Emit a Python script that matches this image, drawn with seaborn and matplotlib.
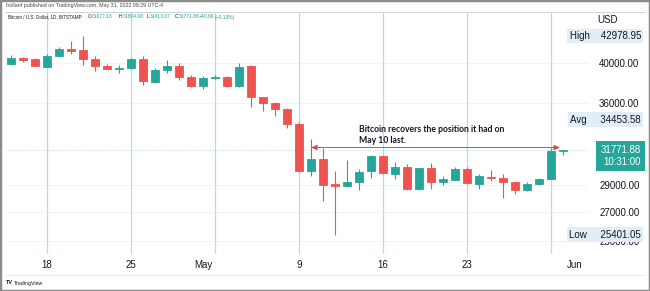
import numpy as np
import pandas as pd
import matplotlib
matplotlib.use("Agg")
import matplotlib.pyplot as plt
import matplotlib.dates as mdates
import matplotlib.transforms as mtransforms
from matplotlib.lines import Line2D
from matplotlib.patches import Rectangle
from matplotlib.ticker import NullLocator, FixedLocator
import seaborn as sns

# daily BTC/USD candles, 15 Apr - 31 May 2022
dates = pd.date_range("2022-04-15", "2022-05-31", freq="D")
open_ = [39944, 40550, 40413, 39629, 40766, 41529, 41419, 40480, 39702, 39420, 39460,
         40413, 38087, 39284, 39734, 38594, 37626, 38492, 38520, 37686, 39702, 36547,
         36029, 35461, 34055, 30097, 31018, 29050, 28926, 29234, 30040, 31290, 29860,
         30417, 28653, 30289, 29187, 29380, 30257, 29080, 29620, 29500, 29234, 28580,
         29033, 29443, 31677.13]
high = [40874, 40658, 40583, 40950, 41715, 42416, 42978.95, 40766, 39913, 39807, 40500,
        40766, 39461, 40338, 39987, 38768, 38666, 38768, 38666, 40050, 39807, 36605,
        36124, 35554, 34240, 32704, 31934, 30073, 30961, 30250, 31390, 31390, 30822,
        30640, 30340, 30740, 29680, 30370, 30417, 29810, 30153, 29860, 29320, 29187,
        29498, 31934, 31804.08]
low = [39807, 40156, 39680, 39600, 40658, 40950, 39807, 39180, 39388, 39005, 39400,
       37756, 37926, 38943, 38259, 37585, 37388, 38329, 37585, 37600, 35593, 35274,
       34811, 33723, 29993, 29701, 27779, 25401.05, 28850, 28600, 29498, 29820, 29420,
       28620, 28600, 28700, 28980, 29330, 29050, 28700, 29320, 28022, 28275, 28520,
       28960, 29443, 31413.67]
close = [40583, 40338, 39702, 40766, 41495, 41342, 40444, 39702, 39440, 39460, 40413,
         38127, 39284, 39734, 38533, 37626, 38492, 38520, 37686, 39629, 36547, 36029,
         35461, 34028, 30097, 31018, 28980, 28920, 29234, 30017, 31290, 29890, 30417,
         28653, 30289, 29187, 29443, 30257, 29110, 29678, 29500, 29187, 28600, 29033,
         29443, 31700, 31771.88]

price_ticks = [25000, 27000, 29000, 36000, 40000]
week_lines = pd.date_range("2022-04-18", "2022-05-30", freq="7D")
date_ticks = pd.to_datetime(["2022-04-18", "2022-04-25", "2022-05-01", "2022-05-09",
                             "2022-05-16", "2022-05-23", "2022-06-01"])
date_labels = ["18", "25", "May", "9", "16", "23", "Jun"]

high_val, avg_val, low_val, last_val = 42978.95, 34453.58, 25401.05, 31771.88
note = "Bitcoin recovers the position it had on\nMay 10 last."
arrow_from, arrow_to, arrow_price = "2022-05-10", "2022-05-30 18:00", 32000
note_at, note_price = "2022-05-14", 33950

GREEN, RED = "#26a69a", "#ef5350"

sns.set_style("white")
plt.rcParams["font.family"] = ["Liberation Sans", "DejaVu Sans"]

W, H = 650, 291
fig = plt.figure(figsize=(6.5, 2.91), dpi=100)
fig.patch.set_facecolor("white")


def fx(px):
    return px / W


def fy(py):
    return 1 - py / H


ax = fig.add_axes([fx(5), fy(254), fx(588) - fx(5), fy(12) - fy(254)])
x = mdates.date2num(dates)
o, h, l, c = map(np.array, (open_, high, low, close))
colors = np.where(c >= o, GREEN, RED)

for d in week_lines:
    ax.axvline(mdates.date2num(d), color="#b5dde0", lw=0.9, zorder=1)

ax.vlines(x, l, h, colors=colors, lw=0.8, zorder=2)
ax.bar(x, np.abs(c - o), bottom=np.minimum(o, c), width=0.66, color=colors,
       edgecolor=colors, lw=0.6, zorder=3)

ax.axhline(last_val, color="#a9c9c5", ls=(0, (1, 2)), lw=0.6, zorder=1)

ax.set_yscale("log")
ax.set_ylim(24144, 45799)
x0 = mdates.date2num(pd.Timestamp("2022-04-18"))
ax.set_xlim(x0 - 3.5, x0 + 45.08)
ax.yaxis.set_major_locator(FixedLocator(price_ticks))
ax.yaxis.set_minor_locator(NullLocator())
ax.set_yticklabels([f"{v:.2f}" for v in price_ticks])
ax.yaxis.tick_right()
ax.set_xticks(mdates.date2num(date_ticks))
ax.set_xticklabels(date_labels)
ax.tick_params(axis="y", length=0, pad=8, labelsize=7, labelcolor="#131722")
ax.tick_params(axis="x", length=0, pad=4, labelsize=7, labelcolor="#131722")
ax.grid(axis="y", color="#eef1f6", lw=0.6)
ax.set_axisbelow(True)
sns.despine(ax=ax, left=True, bottom=True)

# annotation
ax.annotate("", xy=(mdates.date2num(pd.Timestamp(arrow_from)), arrow_price),
            xytext=(mdates.date2num(pd.Timestamp(arrow_to)), arrow_price),
            arrowprops=dict(arrowstyle="<|-|>,head_length=0.35,head_width=0.15",
                            color="#d84a4a", lw=0.7, shrinkA=0, shrinkB=0), zorder=4)
ax.text(mdates.date2num(pd.Timestamp(note_at)), note_price, note, fontsize=6.2,
        fontweight="bold", va="top", ha="left", linespacing=1.3, color="#131722",
        family=["Lato", "DejaVu Sans"])

# price scale labels
trans = mtransforms.blended_transform_factory(fig.transFigure, ax.transData)
box = dict(boxstyle="square,pad=0.25", fc="#e2edf8", ec="none")
for name, val, gap in [("High", high_val, "    "), ("Avg", avg_val, "     "), ("Low", low_val, "     ")]:
    ax.text(fx(641), val, f"{name}{gap}{val:.2f}", transform=trans, ha="right", va="center",
            fontsize=7, color="#131722", bbox=box, clip_on=False, zorder=6)
off = mtransforms.ScaledTranslation(0, 5 / 100, fig.dpi_scale_trans)
ax.text(fx(641), last_val, f"{last_val:.2f}\n10:31:00", transform=trans + off, ha="right",
        va="top", fontsize=7, color="white", linespacing=1.2, clip_on=False, zorder=6,
        bbox=dict(boxstyle="square,pad=0.45", fc=GREEN, ec="none"))
fig.text(fx(597), fy(20), "USD", fontsize=7, va="center", color="#131722")

# header / footer
fig.text(fx(6), fy(6), "frollanf published on TradingView.com, May 31, 2022 09:29 UTC-4",
         fontsize=3.8, va="center", color="#444444")
fig.add_artist(Line2D([fx(5), fx(645)], [fy(11.5)] * 2, color="#d0d4da", lw=0.7))
fig.text(fx(8), fy(17), "Bitcoin / U.S. Dollar, 1D, BITSTAMP", fontsize=3.3, va="center",
         color="#131722")
pieces = [(88, "O", "#131722"), (92, "31677.13", GREEN), (119, "H", "#131722"),
          (122.5, "31804.08", GREEN), (147, "L", "#131722"), (150, "31413.67", GREEN),
          (175, "C", "#131722"), (179, "31771.88", GREEN), (199, "+40.66", GREEN),
          (215, "(+0.13%)", GREEN)]
for px, s, col in pieces:
    fig.text(fx(px), fy(17), s, fontsize=3.6, va="center", color=col)
fig.add_artist(Line2D([fx(5), fx(645)], [fy(275)] * 2, color="#e6e9ee", lw=0.7))
fig.text(fx(6), fy(283), "TV", fontsize=4, fontweight="bold", va="center", color="#131722")
fig.text(fx(14), fy(283), "TradingView", fontsize=3.8, va="center", color="#131722")
fig.add_artist(Rectangle((0, 0), 1, 1, transform=fig.transFigure, fill=False,
                         ec="#8c8c8c", lw=2.5))

fig.savefig("out.png", dpi=100)
